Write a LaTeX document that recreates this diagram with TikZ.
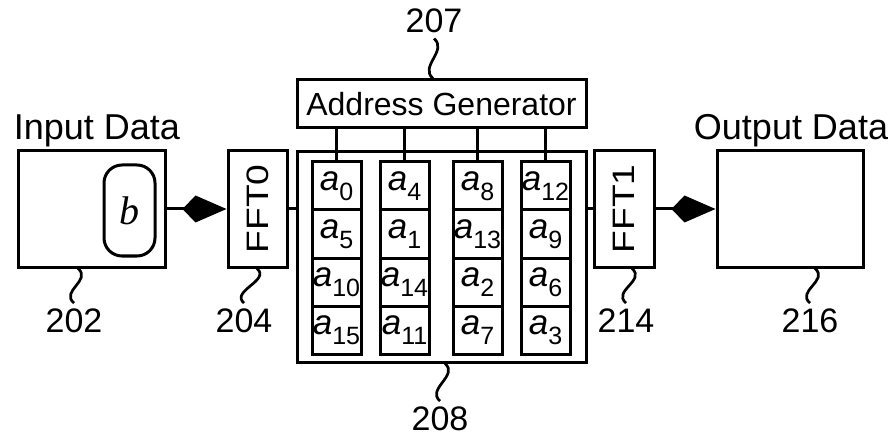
\documentclass[tikz,border=0pt]{standalone}
\usepackage{fontspec}
\setmainfont{Liberation Sans}
\newfontfamily\serifface{Liberation Serif}
\usetikzlibrary{arrows.meta}

\newcommand{\addr}[1]{\textit{a}\raisebox{-0.55ex}{\fontsize{25}{25}\selectfont #1}}

\tikzset{
  blockbox/.style={draw, line width=3pt, inner sep=0pt},
  cellbox/.style={draw, line width=3pt, inner sep=0pt,
    minimum width=49pt, minimum height=48pt, font=\fontsize{35}{36}\selectfont},
  leader/.style={line width=2.7pt},
  refnum/.style={anchor=base, inner sep=5pt, font=\fontsize{34}{40}\selectfont},
  datalabel/.style={anchor=base, inner sep=0pt, font=\fontsize{36}{40}\selectfont},
  fftlabel/.style={rotate=90, inner sep=0pt, font=\fontsize{31}{31}\selectfont},
  diamondlink/.style={line width=3pt, -{Kite[length=44pt, width=27pt, inset=13pt]}},
}

\begin{document}
\begin{tikzpicture}[x=1pt, y=-1pt]
  \useasboundingbox (0,0) rectangle (896,438);

  % input side
  \node[datalabel] (inlabel) at (97,140) {Input Data};
  \node[blockbox, minimum width=147pt, minimum height=116pt] (inbox) at (91.5,209) {};
  \node[draw, line width=3pt, rounded corners=18pt, minimum width=51pt,
    minimum height=91pt, inner sep=0pt,
    font=\serifface\itshape\fontsize{40}{40}\selectfont] (bnode) at (129.5,210.5) {b};
  \node[blockbox, minimum width=59pt, minimum height=116pt] (fft0) at (257.5,209) {};
  \node[fftlabel] (fft0txt) at (fft0.center) {\scalebox{1.2}[1]{FFT0}};

  % address generator and memory
  \node[blockbox, minimum width=289pt, minimum height=48pt,
    font=\fontsize{32}{34}\selectfont] (ag) at (441.5,104) {Address Generator};
  \node[blockbox, minimum width=289pt, minimum height=210pt] (mem) at (441.5,257) {};
  \foreach \row/\cy/\la/\lb/\lc/\ld in
      {1/186/0/4/8/12, 2/234/5/1/13/9, 3/282/10/14/2/6, 4/330/15/11/7/3} {
    \node[cellbox] (c\row-1) at (336.5,\cy) {\addr{\la}};
    \node[cellbox] (c\row-2) at (404.5,\cy) {\addr{\lb}};
    \node[cellbox] (c\row-3) at (477.5,\cy) {\addr{\lc}};
    \node[cellbox] (c\row-4) at (545.5,\cy) {\addr{\ld}};
  }
  \foreach \col in {1,...,4}
    \draw[line width=3pt] (ag.south -| c1-\col.north) -- (c1-\col.north);

  % output side
  \node[blockbox, minimum width=60pt, minimum height=116pt] (fft1) at (624,209) {};
  \node[fftlabel] (fft1txt) at (fft1.center) {\scalebox{1.2}[1]{FFT1}};
  \node[datalabel] (outlabel) at (791,140) {Output Data};
  \node[blockbox, minimum width=146pt, minimum height=116pt] (outbox) at (790,209) {};

  % links
  \draw[diamondlink] (inbox.east) -- (fft0.west);
  \draw[line width=3pt] (fft0.east) -- (fft0.east -| mem.west);
  \draw[line width=3pt] (mem.east |- fft1.west) -- (fft1.west);
  \draw[diamondlink] (fft1.east) -- (outbox.west);

  % reference numbers
  \node[refnum] (n207) at (434,33) {207};
  \node[refnum] (n202) at (74,332) {202};
  \node[refnum] (n204) at (244,332) {204};
  \node[refnum] (n208) at (440,430) {208};
  \node[refnum] (n214) at (626,332) {214};
  \node[refnum] (n216) at (810,332) {216};

  \draw[leader] (n207.south |- ag.north) ++(-1,0) .. controls +(-14,-12) and +(14,12) .. (n207.south);
  \draw[leader] (n202.north |- inbox.south) ++(4,0) .. controls +(14,12) and +(-14,-12) .. (n202.north);
  \draw[leader] (n204.north |- fft0.south) ++(13,0) .. controls +(14,12) and +(-14,-12) .. (n204.north);
  \draw[leader] (n208.north |- mem.south) ++(5,0) .. controls +(14,12) and +(-14,-12) .. (n208.north);
  \draw[leader] (n214.north |- fft1.south) ++(6,0) .. controls +(14,12) and +(-14,-12) .. (n214.north);
  \draw[leader] (n216.north |- outbox.south) ++(5,0) .. controls +(14,12) and +(-14,-12) .. (n216.north);
\end{tikzpicture}
\end{document}
